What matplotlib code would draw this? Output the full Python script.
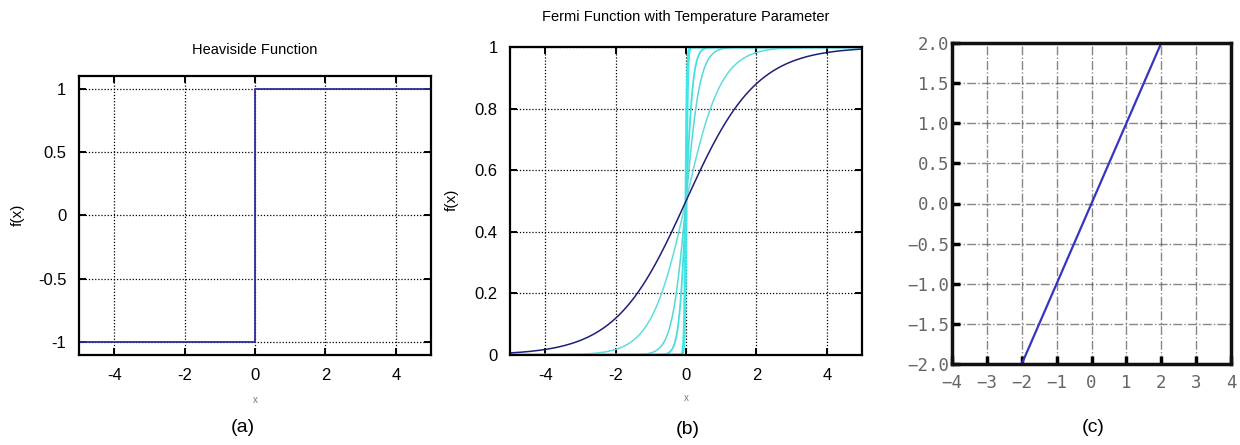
import matplotlib.pyplot as plt
import numpy as np

plt.rcParams['font.family'] = ['Liberation Sans', 'DejaVu Sans']

# (a) Heaviside step
step_x = [-5, 0, 0, 5]
step_y = [-1, -1, 1, 1]

# (b) Fermi function, one curve per temperature
temps = [1.0, 0.5, 0.2, 0.1, 0.02]
temp_colors = ['#1f1f78', '#62dcdc', '#55d8d8', '#48dede', '#3ee8e8']
temp_widths = [1.1, 1.1, 1.1, 1.3, 2.2]

# (c) straight line
line_x = [-2, 2]
line_y = [-2, 2]

W, H = 1240, 445
fig = plt.figure(figsize=(W / 100, H / 100), dpi=100)


def box(l, t, r, b):
    return [l / W, 1 - b / H, (r - l) / W, (b - t) / H]


def gnuplot_style(ax):
    for s in ax.spines.values():
        s.set_linewidth(1.6)
        s.set_color('black')
    ax.tick_params(direction='in', length=5, width=1.4, top=True, right=True,
                   labelsize=12, pad=9)
    ax.grid(True, color='black', linestyle=(0, (1, 1.5)), linewidth=0.9)


# ---- (a)
ax1 = fig.add_axes(box(79, 76, 431, 355))
ax1.plot(step_x, step_y, color='#2c2c9c', linewidth=1.3)
ax1.set_xlim(-5, 5)
ax1.set_ylim(-1.1, 1.1)
ax1.set_xticks([-4, -2, 0, 2, 4])
ax1.set_yticks([-1, -0.5, 0, 0.5, 1])
ax1.set_yticklabels(['-1', '-0.5', '0', '0.5', '1'])
ax1.set_xticklabels(['-4', '-2', '0', '2', '4'])
gnuplot_style(ax1)
fig.text(255 / W, 1 - 50 / H, 'Heaviside Function', ha='center', va='center', fontsize=10.5)
fig.text(18 / W, 1 - 215 / H, 'f(x)', ha='center', va='center', rotation=90, fontsize=11)
fig.text(255 / W, 1 - 400 / H, 'x', ha='center', va='center', fontsize=7, color='#777777')
fig.text(243 / W, 1 - 428 / H, '(a)', ha='center', va='center', fontsize=14)

# ---- (b)
ax2 = fig.add_axes(box(510, 47, 862, 355))
xs = np.linspace(-5, 5, 2001)
for T, c, lw in zip(temps[::-1], temp_colors[::-1], temp_widths[::-1]):
    ax2.plot(xs, 1 / (1 + np.exp(-xs / T)), color=c, linewidth=lw)
ax2.set_xlim(-5, 5)
ax2.set_ylim(0, 1)
ax2.set_xticks([-4, -2, 0, 2, 4])
ax2.set_xticklabels(['-4', '-2', '0', '2', '4'])
ax2.set_yticks([0, 0.2, 0.4, 0.6, 0.8, 1])
ax2.set_yticklabels(['0', '0.2', '0.4', '0.6', '0.8', '1'])
gnuplot_style(ax2)
fig.text(686 / W, 1 - 17 / H, 'Fermi Function with Temperature Parameter',
         ha='center', va='center', fontsize=10.5)
fig.text(452 / W, 1 - 200 / H, 'f(x)', ha='center', va='center', rotation=90, fontsize=11)
fig.text(686 / W, 1 - 398 / H, 'x', ha='center', va='center', fontsize=7, color='#777777')
fig.text(688 / W, 1 - 430 / H, '(b)', ha='center', va='center', fontsize=14)

# ---- (c)
ax3 = fig.add_axes(box(952, 43, 1231, 364))
ax3.plot(line_x, line_y, color='#3535c0', linewidth=1.6)
ax3.set_xlim(-4, 4)
ax3.set_ylim(-2, 2)
ax3.set_xticks(np.arange(-4, 5, 1))
ax3.set_yticks(np.arange(-2, 2.01, 0.5))
ax3.set_yticklabels([f'{v:.1f}'.replace('-', '\u2212') for v in np.arange(-2, 2.01, 0.5)])
for s in ax3.spines.values():
    s.set_linewidth(2.5)
    s.set_color('#111111')
ax3.tick_params(direction='in', length=6, width=2.5, labelsize=12.5,
                labelcolor='#666666')
ax3.tick_params(axis='x', pad=7)
ax3.tick_params(axis='y', pad=2)
for lab in ax3.get_xticklabels() + ax3.get_yticklabels():
    lab.set_family('DejaVu Sans Mono')
ax3.grid(True, color='#555555', linestyle='-.', linewidth=1.0, alpha=0.7)
fig.text(1093 / W, 1 - 428 / H, '(c)', ha='center', va='center', fontsize=14)

fig.savefig('out.png', dpi=100)
